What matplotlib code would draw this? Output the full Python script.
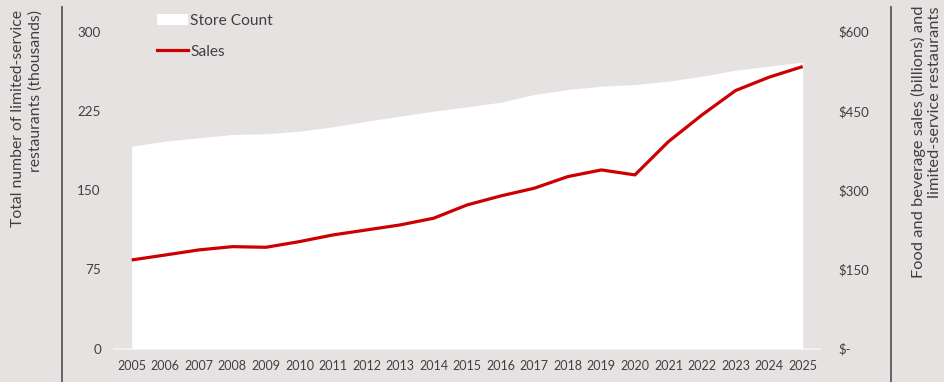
import matplotlib
matplotlib.use("Agg")
import matplotlib.pyplot as plt
from matplotlib.patches import Patch
from matplotlib.lines import Line2D

years = list(range(2005, 2026))
store_count = [191.5, 196.2, 199.4, 202.5, 203.2, 205.7, 209.8, 215.1, 219.9, 224.6,
               228.7, 233.1, 240.4, 245.1, 248.2, 249.8, 253.0, 257.7, 263.4, 267.2, 271.0]
sales = [167.6, 177.0, 186.6, 192.8, 191.6, 202.3, 215.0, 224.4, 233.9, 246.6,
         271.8, 288.8, 303.4, 325.4, 338.0, 328.6, 391.7, 442.2, 488.3, 513.6, 533.7]
left_ticks = [0, 75, 150, 225, 300]
right_ticks = [0, 150, 300, 450, 600]
right_tick_labels = ['$-', '$150', '$300', '$450', '$600']
left_title = "Total number of limited-service\nrestaurants (thousands)"
right_title = "Food and beverage sales (billions) and\nlimited-service restaurants"

BG = '#e6e2e2'
TXT = '#404040'
RED = '#cc0000'
plt.rcParams['font.family'] = ['Lato', 'DejaVu Sans']

fig = plt.figure(figsize=(9.44, 3.82), dpi=100, facecolor=BG)
ax = fig.add_axes([62/944, 0, (891-62)/944, (382-7)/382])
ax.set_facecolor(BG)
ax2 = ax.twinx()
ax2.patch.set_visible(False)

ax.fill_between(years, 0, store_count, color='white', lw=0, zorder=2)
ax.hlines(0, years[0]-0.55, years[-1]+0.55, color='#f4f4f4', lw=1.2, zorder=1)
ax2.plot(years, sales, color=RED, lw=2.3, zorder=3, solid_capstyle='butt')

ax.set_xlim(2002.923, 2027.632)
ax.set_ylim(-31.7, 323.2)
ax2.set_ylim(-63.4, 646.4)

ax.set_xticks(years)
ax.set_xticklabels([str(y) for y in years])
ax.set_yticks(left_ticks)
ax.set_yticklabels([str(v) for v in left_ticks])
ax2.set_yticks(right_ticks)
ax2.set_yticklabels(right_tick_labels)

ax.tick_params(axis='x', length=0, pad=-15.5, labelsize=9, labelcolor=TXT)
ax.tick_params(axis='y', length=0, pad=-28, labelsize=9.7, labelcolor=TXT)
ax2.tick_params(axis='y', length=0, pad=-38.2, labelsize=9.5, labelcolor=TXT)

for a in (ax, ax2):
    for s in ('top', 'bottom'):
        a.spines[s].set_visible(False)
ax.spines['right'].set_visible(False)
ax2.spines['left'].set_visible(False)
ax.spines['left'].set_color('#595959')
ax.spines['left'].set_linewidth(1.3)
ax2.spines['right'].set_color('#595959')
ax2.spines['right'].set_linewidth(1.3)

fig.text(26.5/944, 1-10/382, left_title, rotation=90, ha='center', va='top',
         multialignment='right', fontsize=11.3, color=TXT, linespacing=1.28)
fig.text(926.5/944, 1-6/382, right_title, rotation=90, ha='center', va='top',
         multialignment='right', fontsize=11.8, color=TXT, linespacing=1.2)

handles = [Patch(facecolor='white', edgecolor='none'),
           Line2D([0], [0], color=RED, lw=2.3)]
fig.legend(handles, ['Store Count', 'Sales'], loc='upper left',
           bbox_to_anchor=(151/944, 1-8/382), frameon=False, fontsize=11.2,
           handlelength=2.0, handletextpad=0.12, labelspacing=1.05,
           labelcolor=TXT, borderaxespad=0)

fig.savefig('out.png', dpi=100, facecolor=BG)
